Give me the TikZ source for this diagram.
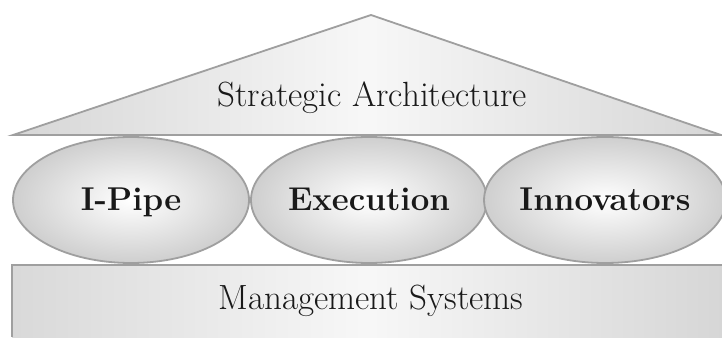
\documentclass[tikz,border=0pt]{standalone}
\usetikzlibrary{positioning, shapes.geometric}
\begin{document}
\begin{tikzpicture}[x=0.5pt,y=0.5pt]
\tikzset{
  edge/.style={draw=gray!75, line width=0.9pt},
  roof/.style={edge, left color=gray!32, right color=gray!32, middle color=gray!6},
  base/.style={left color=gray!30, right color=gray!32, middle color=gray!6},
  pillar/.style={ellipse, edge, inner color=white, outer color=gray!38,
    minimum width=118pt, minimum height=63pt, inner sep=0pt,
    text height=11pt, text depth=0pt, text=black!90,
    font=\fontsize{16.5}{18}\selectfont\bfseries},
  caption/.style={text=black!90, anchor=base, font=\fontsize{17.5}{20}\selectfont}
}
\useasboundingbox (0,0) rectangle (722,337);

\coordinate (apex) at (371,322);
\coordinate (roofL) at (13,202);
\coordinate (roofR) at (721,202);
\coordinate (baseTL) at (12,72);
\coordinate (baseTR) at (722,72);
\coordinate (baseBL) at (12,0);

\filldraw[roof] (roofL) -- (apex) -- (roofR) -- cycle;
\node[caption] (strat) at (372,230) {Strategic Architecture};

\fill[base] (baseBL) rectangle (baseTR);
\draw[edge] (baseBL) -- (baseTL) -- (baseTR);
\node[caption] (mgmt) at (371,27) {Management Systems};

\node[pillar] (ipipe) at (131,137) {I-Pipe};
\node[pillar] (exec) at (369,137) {Execution};
\node[pillar] (innov) at (605,137) {Innovators};
\end{tikzpicture}
\end{document}
